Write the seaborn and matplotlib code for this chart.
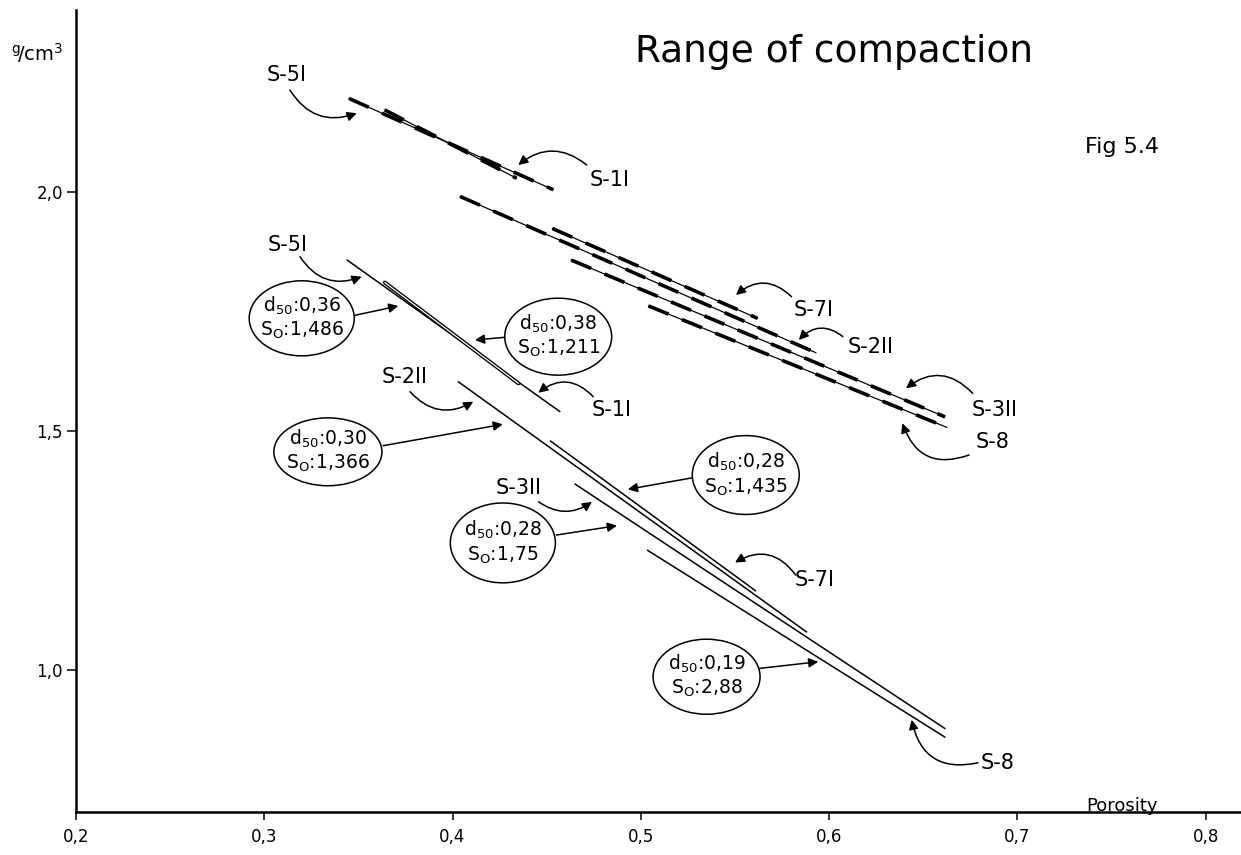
import pandas as pd
import matplotlib
matplotlib.use('Agg')
import matplotlib.pyplot as plt
from matplotlib.patches import Ellipse
import seaborn as sns

# Samples, same order in both groups
samples = ['S-5I', 'S-1I', 'S-2II', 'S-7I', 'S-3II', 'S-8']

# Upper group (dashed lines): porosity / density at start and end of each line
upper_por_start = [0.345, 0.364, 0.404, 0.453, 0.463, 0.504]
upper_den_start = [2.195, 2.171, 1.990, 1.923, 1.857, 1.761]
upper_por_end = [0.4535, 0.434, 0.593, 0.562, 0.6615, 0.6625]
upper_den_end = [2.004, 2.028, 1.663, 1.735, 1.529, 1.507]

# Lower group (solid lines)
lower_por_start = [0.344, 0.364, 0.403, 0.452, 0.465, 0.5035]
lower_den_start = [1.857, 1.810, 1.6025, 1.4785, 1.3885, 1.250]
lower_por_end = [0.457, 0.435, 0.588, 0.561, 0.6615, 0.6615]
lower_den_end = [1.540, 1.599, 1.079, 1.165, 0.877, 0.859]

# Grain size / sorting notes for the lower lines
d50_values = ['0,36', '0,38', '0,30', '0,28', '0,28', '0,19']
so_values = ['1,486', '1,211', '1,366', '1,435', '1,75', '2,88']

x_ticks = [0.2, 0.3, 0.4, 0.5, 0.6, 0.7, 0.8]
y_ticks = [1.0, 1.5, 2.0]

# label placement: (text x, text y, arrow tail, arrow tip, curvature)
upper_labels = [
    (0.312, 2.244, (0.3136, 2.2128), (0.3491, 2.1640), 0.4),
    (0.4836, 2.0245, (0.4712, 2.0559), (0.4349, 2.0559), 0.4),
    (0.6222, 1.6757, (0.6073, 1.6967), (0.5839, 1.6898), 0.45),
    (0.5918, 1.7525, (0.5800, 1.7803), (0.5505, 1.7839), 0.45),
    (0.688, 1.5433, (0.6762, 1.5782), (0.6408, 1.5887), 0.45),
    (0.687, 1.477, (0.6743, 1.4492), (0.6389, 1.5155), -0.5),
]
lower_labels = [
    (0.3126, 1.8885, (0.3190, 1.8640), (0.3517, 1.8222), 0.4),
    (0.4845, 1.5433, (0.4747, 1.5711), (0.4455, 1.5795), 0.45),
    (0.3747, 1.613, (0.3774, 1.5816), (0.4110, 1.5607), 0.4),
    (0.5925, 1.1877, (0.5822, 1.1981), (0.5500, 1.2243), 0.45),
    (0.4353, 1.3812, (0.4457, 1.3513), (0.4740, 1.3513), 0.35),
    (0.6896, 0.8048, (0.6790, 0.8054), (0.6438, 0.8954), -0.5),
]
# ellipse centre, size, arrow tail, arrow tip
notes = [
    ((0.3199, 1.7351), 0.0558, 0.157, (0.3482, 1.7414), (0.3712, 1.7609)),
    ((0.4561, 1.6967), 0.0568, 0.161, (0.4278, 1.6954), (0.4119, 1.6898)),
    ((0.3338, 1.4559), 0.0574, 0.142, (0.3631, 1.4686), (0.4267, 1.5134)),
    ((0.5557, 1.4073), 0.0568, 0.165, (0.5271, 1.4013), (0.4931, 1.3774)),
    ((0.4267, 1.2653), 0.0558, 0.167, (0.4551, 1.2818), (0.4873, 1.3013)),
    ((0.5349, 0.9854), 0.0568, 0.157, (0.5632, 1.0029), (0.5942, 1.0167)),
]

upper = pd.DataFrame({
    'sample': samples * 2,
    'porosity': upper_por_start + upper_por_end,
    'density': upper_den_start + upper_den_end,
})
lower = pd.DataFrame({
    'sample': samples * 2,
    'porosity': lower_por_start + lower_por_end,
    'density': lower_den_start + lower_den_end,
})

sns.set_style('ticks')
plt.rcParams['font.family'] = ['DejaVu Sans']
plt.rcParams['axes.linewidth'] = 1.8
plt.rcParams['text.color'] = 'black'
plt.rcParams['axes.edgecolor'] = 'black'
plt.rcParams['xtick.color'] = 'black'
plt.rcParams['ytick.color'] = 'black'
plt.rcParams['xtick.labelcolor'] = 'black'
plt.rcParams['ytick.labelcolor'] = 'black'

fig = plt.figure(figsize=(12.41, 8.55), dpi=100)
ax = fig.add_axes([0.0612, 0.0506, 0.9388, 0.9377])

# upper group: thin line with thick dashes on top
sns.lineplot(data=upper, x='porosity', y='density', units='sample', estimator=None,
             color='k', lw=0.9, legend=False, ax=ax)
sns.lineplot(data=upper, x='porosity', y='density', units='sample', estimator=None,
             color='k', lw=2.6, linestyle=(0, (6, 4)), legend=False, ax=ax)

# lower group: solid lines, S-1I drawn as a double line
sns.lineplot(data=lower, x='porosity', y='density', units='sample', estimator=None,
             color='k', lw=1.1, legend=False, ax=ax)
s1 = lower[lower['sample'] == 'S-1I']
ax.plot(s1['porosity'], s1['density'], color='k', lw=2.8)
ax.plot(s1['porosity'], s1['density'], color='white', lw=0.9)

arrow_kw = dict(arrowstyle='-|>', color='k', lw=1.1, mutation_scale=14,
                shrinkA=0, shrinkB=0)

for name, (tx, ty, tail, tip, rad) in zip(samples, upper_labels):
    ax.text(tx, ty, name, ha='center', va='center', fontsize=15)
    ax.annotate('', xy=tip, xytext=tail,
                arrowprops=dict(connectionstyle=f'arc3,rad={rad}', **arrow_kw))

for name, (tx, ty, tail, tip, rad) in zip(samples, lower_labels):
    ax.text(tx, ty, name, ha='center', va='center', fontsize=15)
    ax.annotate('', xy=tip, xytext=tail,
                arrowprops=dict(connectionstyle=f'arc3,rad={rad}', **arrow_kw))

for d50, so, (centre, w, h, tail, tip) in zip(d50_values, so_values, notes):
    ax.add_patch(Ellipse(centre, w, h, fill=False, ec='k', lw=1.1))
    ax.text(centre[0], centre[1] + 0.027, r'd$_{50}$:' + d50,
            ha='center', va='center', fontsize=13.5)
    ax.text(centre[0], centre[1] - 0.025, r'S$_{\mathrm{O}}$:' + so,
            ha='center', va='center', fontsize=13.5)
    ax.annotate('', xy=tip, xytext=tail, arrowprops=dict(**arrow_kw))

ax.text(0.6023, 2.272, 'Range of compaction', ha='center', va='baseline', fontsize=27)
ax.text(0.7555, 2.0935, 'Fig 5.4', ha='center', va='center', fontsize=16)
ax.text(0.7553, 0.7149, 'Porosity', ha='center', va='center', fontsize=13)
ax.text(0.1793, 2.29, r'$^{\mathrm{g}}\!/\mathrm{cm}^{3}$', ha='center', va='center',
        fontsize=14, clip_on=False)

ax.set_xlim(0.2, 0.8187)
ax.set_ylim(0.703, 2.38)
ax.set_xticks(x_ticks)
ax.set_xticklabels([f'{v:.1f}'.replace('.', ',') for v in x_ticks])
ax.set_yticks(y_ticks)
ax.set_yticklabels([f'{v:.1f}'.replace('.', ',') for v in y_ticks])
ax.set_xlabel('')
ax.set_ylabel('')
ax.tick_params(axis='x', direction='out', length=6, width=1.1, labelsize=12, pad=6)
ax.tick_params(axis='y', direction='out', length=6.5, width=1.1, labelsize=12, pad=3)
sns.despine(ax=ax)

fig.savefig('out.png', dpi=100, facecolor='white')
